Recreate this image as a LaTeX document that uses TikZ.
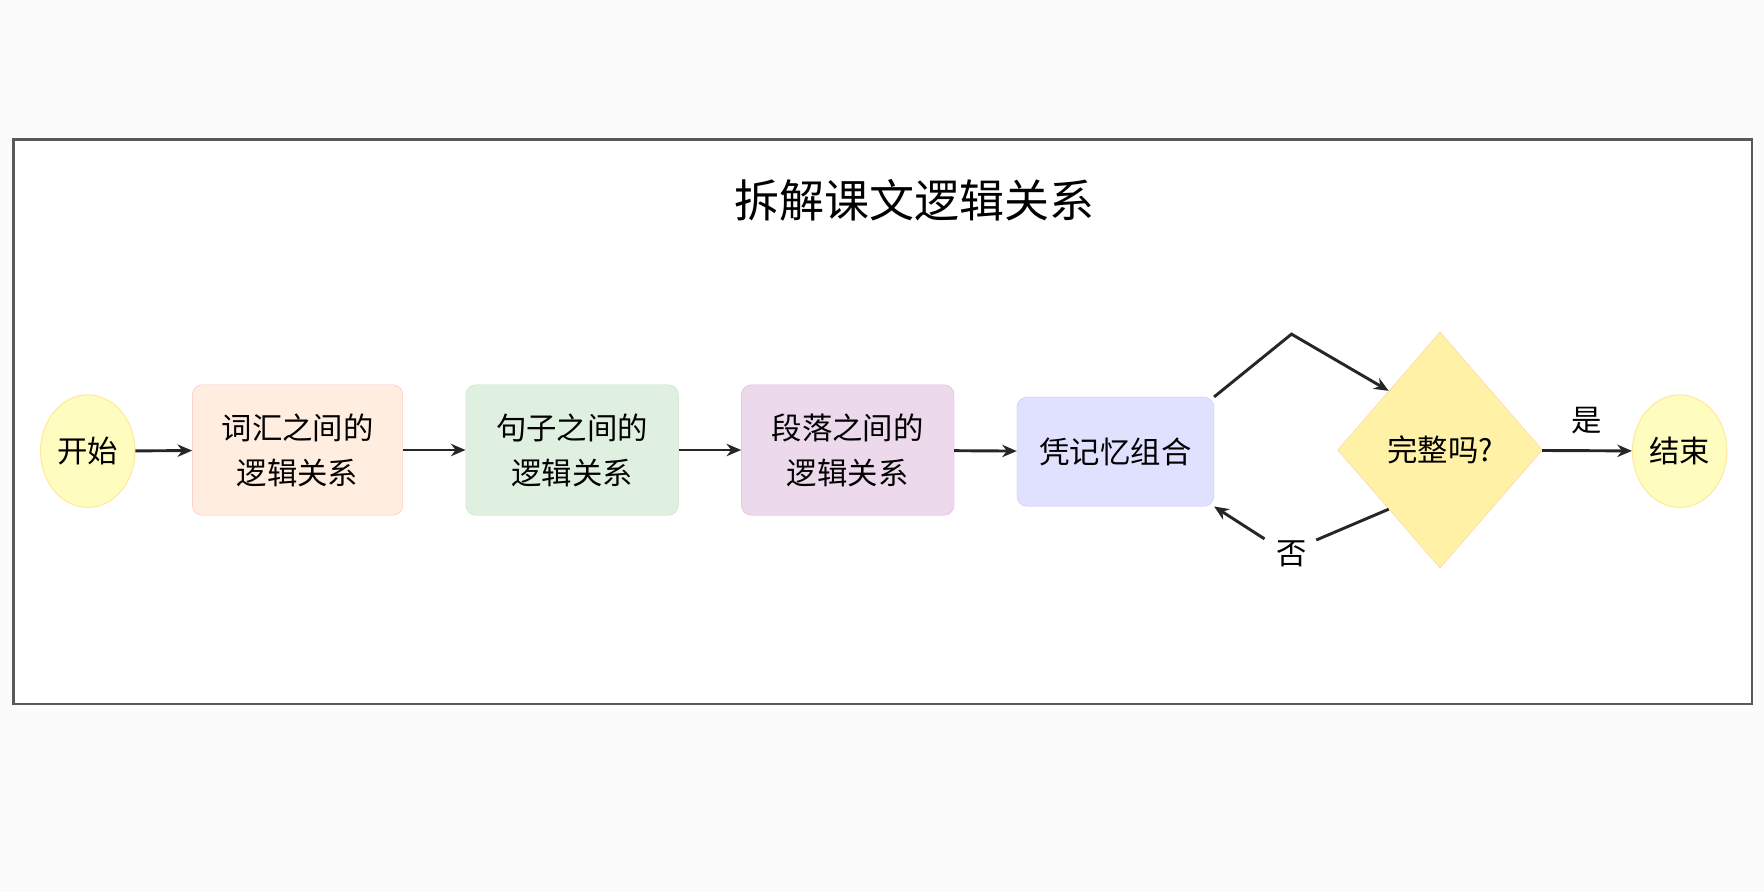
\documentclass[tikz,border=0pt]{standalone}
\usepackage{fontspec}
\setmainfont{Noto Sans CJK SC}
\usetikzlibrary{arrows.meta,shapes.geometric}
\definecolor{bg}{HTML}{FBFBFB}
\begin{document}
\begin{tikzpicture}[x=1pt,y=-1pt,
  box/.style={rounded corners=9pt,minimum height=116pt,align=center,font=\fontsize{27}{40}\selectfont,inner sep=0pt},
  oval/.style={ellipse,minimum width=84pt,minimum height=100pt,fill=yellow!25,draw=yellow!60!orange!40,line width=0.8pt,font=\fontsize{27}{32}\selectfont,inner sep=0pt},
  arr/.style={-{Stealth[length=13pt,width=11pt]},line width=2.6pt,black!85},
  ln/.style={line width=2.6pt,black!85}]
\useasboundingbox (0,0) rectangle (1568,793);
\fill[bg] (0,0) rectangle (1568,793);
\draw[line width=2pt,black!65,fill=white] (12,124) rectangle (1557,626);
\node[font=\fontsize{40}{48}\selectfont] (title) at (813,178) {拆解课文逻辑关系};
\node[oval] (start) at (78,401) {开始};
\node[box,minimum width=187pt,fill=red!15!orange!12,draw=red!25] (b1) at (264.5,400) {词汇之间的\\逻辑关系};
\node[box,minimum width=189pt,fill=green!50!black!12,draw=green!50!black!22] (b2) at (508.5,400) {句子之间的\\逻辑关系};
\node[box,minimum width=189pt,fill=violet!15,draw=violet!28] (b3) at (753.5,400) {段落之间的\\逻辑关系};
\node[box,minimum width=175pt,minimum height=97pt,fill=blue!12,draw=blue!22] (b4) at (991.5,401.5) {凭记忆组合};
\node[diamond,minimum width=182pt,minimum height=210pt,aspect=0.87,fill=orange!30!yellow!35,draw=orange!35,inner sep=0pt,font=\fontsize{27}{32}\selectfont] (d) at (1280,400) {完整吗?};
\node[oval] (end) at (1493,401) {结束};
\draw[arr] (start) -- (b1);
\draw[arr] (b1) -- (b2);
\draw[arr] (b2) -- (b3);
\draw[arr] (b3) -- (b4);
\draw[arr] (d) -- (end) node[midway,above=10pt,font=\fontsize{27}{32}\selectfont,black] {是};
\coordinate (top) at (1148,297);
\draw[arr,line join=miter] (b4.north east) -- (top) -- (d.north west);
\coordinate (n1) at (1170,480);
\coordinate (n2) at (1124,479);
\node[font=\fontsize{27}{32}\selectfont] (no) at (1148,492) {否};
\draw[ln] (d.south west) -- (n1);
\draw[arr] (n2) -- (b4.south east);
\end{tikzpicture}
\end{document}
